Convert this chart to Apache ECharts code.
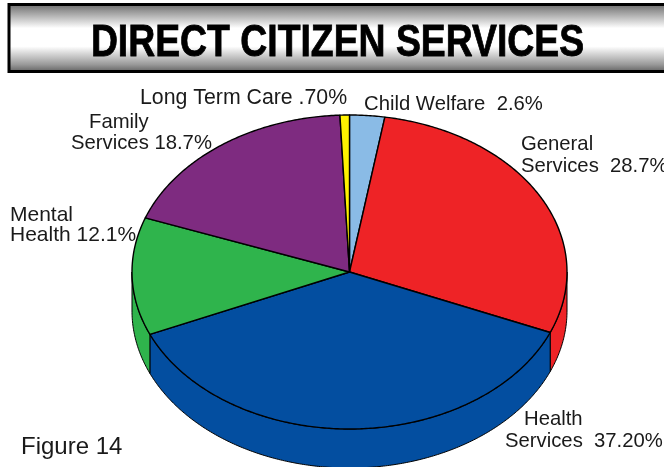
<!DOCTYPE html>
<html>
<head>
<meta charset="utf-8">
<style>html,body{margin:0;padding:0;background:#fff}#chart{width:664px;height:467px}</style>
<script src="https://cdn.jsdelivr.net/npm/echarts@6/dist/echarts.min.js"></script>
</head>
<body>
<div id="chart"></div>
<script>
// Share of direct citizen services, clockwise from twelve o'clock
const services = ['Child Welfare', 'General Services', 'Health Services', 'Mental Health', 'Family Services', 'Long Term Care'];
const shares = [2.6, 28.7, 37.2, 12.1, 18.7, 0.7];
const sliceColors = ['#8ABBE6', '#EE2326', '#034EA0', '#2FB44C', '#7E2B80', '#FFF200'];

// Slice captions, one entry per drawn line
const captionText = ['Long Term Care .70%', 'Child Welfare  2.6%', 'Family', 'Services 18.7%', 'General', 'Services  28.7%', 'Mental', 'Health 12.1%', 'Health', 'Services  37.20%', 'Figure 14'];

// Tilted disc geometry
const CX = 349.5, CY = 272, RX = 217.5, RY = 157, DEPTH = 39;

const total = shares.reduce((a, b) => a + b, 0);
const toAngle = v => v / total * Math.PI * 2;
const starts = [];
shares.reduce((acc, v, i) => { starts[i] = acc; return acc + toAngle(v); }, 0);

const rimPoint = (t, dy) => [CX + RX * Math.sin(t), CY - RY * Math.cos(t) + dy];
const arc = (a, b, dy) => {
  const n = Math.max(2, Math.ceil((b - a) / 0.01));
  const pts = [];
  for (let i = 0; i <= n; i++) pts.push(rimPoint(a + (b - a) * i / n, dy));
  return pts;
};

// Vertical wall of a slice, only where its rim faces the viewer
function renderWall(params, api) {
  const i = api.value(0);
  const a = Math.max(starts[i], Math.PI / 2);
  const b = Math.min(starts[i] + toAngle(shares[i]), Math.PI * 1.5);
  if (b <= a) return null;
  return {
    type: 'polygon',
    shape: { points: arc(a, b, 0).concat(arc(a, b, DEPTH).reverse()) },
    style: { fill: sliceColors[i], stroke: '#000', lineWidth: 1 }
  };
}

// Top face of a slice
function renderTop(params, api) {
  const i = api.value(0);
  const a = starts[i], b = a + toAngle(shares[i]);
  return {
    type: 'polygon',
    shape: { points: [[CX, CY]].concat(arc(a, b, 0)) },
    style: { fill: sliceColors[i], stroke: '#000', lineWidth: 1.4, lineJoin: 'round' }
  };
}

const rows = services.map((name, i) => ({ name, value: [i, shares[i]] }));

// Where each caption line sits: x, y, font size
const captionLayout = [
  [140, 98, 21.3], [364, 104, 20.3], [89, 122, 20.3], [71, 143, 20.3],
  [521, 144, 20.3], [521, 166, 20.3], [10, 215, 21], [10, 235, 21],
  [524, 419, 20.3], [505, 441, 20.3], [21, 447, 24]
];

const chart = echarts.init(document.getElementById('chart'), null, { renderer: 'canvas' });
chart.setOption({
  animation: false,
  backgroundColor: '#fff',
  graphic: [
    {
      type: 'rect', z: 0,
      shape: { x: 9, y: 4.5, width: 670, height: 67 },
      style: {
        stroke: '#000', lineWidth: 3,
        fill: {
          type: 'linear', x: 0, y: 0, x2: 0, y2: 1,
          colorStops: [
            { offset: 0, color: '#666666' },
            { offset: 0.12, color: '#999999' },
            { offset: 0.36, color: '#ffffff' },
            { offset: 0.62, color: '#ffffff' },
            { offset: 0.88, color: '#999999' },
            { offset: 1, color: '#5a5a5a' }
          ]
        }
      }
    },
    {
      type: 'text', z: 5, x: 337.5, y: 44, scaleX: 0.83,
      style: {
        text: 'DIRECT CITIZEN SERVICES', fill: '#000', stroke: '#000', lineWidth: 0.8,
        font: 'bold 45px "Liberation Sans", Arial, sans-serif',
        align: 'center', verticalAlign: 'middle'
      }
    }
  ].concat(captionText.map((text, i) => ({
    type: 'text', z: 5, x: captionLayout[i][0], y: captionLayout[i][1],
    style: {
      text, fill: '#1a1a1a',
      font: captionLayout[i][2] + 'px "Liberation Sans", Arial, sans-serif',
      align: 'left', verticalAlign: 'middle'
    }
  }))),
  series: [
    { type: 'custom', coordinateSystem: 'none', z: 1, silent: true, renderItem: renderWall, data: rows },
    { type: 'custom', coordinateSystem: 'none', z: 2, silent: true, renderItem: renderTop, data: rows }
  ]
});
</script>
</body>
</html>
